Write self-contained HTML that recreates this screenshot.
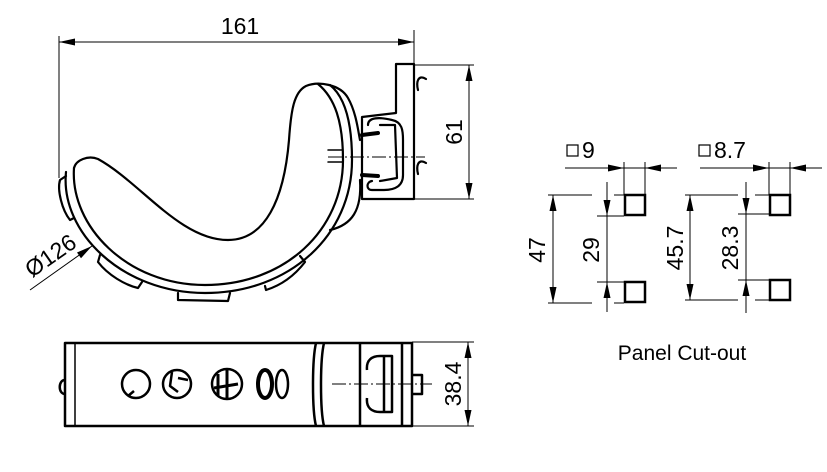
<!DOCTYPE html>
<html><head><meta charset="utf-8"><style>
html,body{margin:0;padding:0;background:#fff;}
svg{display:block}
text{font-family:"Liberation Sans",sans-serif;fill:#000}
</style></head><body>
<svg width="827" height="472" viewBox="0 0 827 472" xmlns="http://www.w3.org/2000/svg">
<g stroke="#000" fill="none" stroke-width="1">
<line x1="59" y1="36" x2="59" y2="178"/>
<line x1="414" y1="30" x2="414" y2="65"/>
<line x1="59" y1="42" x2="414" y2="42"/>
<line x1="414" y1="65" x2="474" y2="65"/>
<line x1="414" y1="199" x2="474" y2="199"/>
<line x1="469" y1="65" x2="469" y2="199"/>
<line x1="328" y1="157" x2="425" y2="157" stroke-dasharray="14,3,2,3"/>
<line x1="30" y1="290" x2="92" y2="246"/>
<line x1="332" y1="384" x2="432" y2="384" stroke-dasharray="14,3,2,3"/>
<line x1="412" y1="342" x2="474" y2="342"/>
<line x1="412" y1="426" x2="474" y2="426"/>
<line x1="468" y1="342" x2="468" y2="426"/>
<!-- cut-out dims -->
<line x1="565" y1="168" x2="677" y2="168"/>
<line x1="624" y1="162" x2="624" y2="195"/>
<line x1="645" y1="162" x2="645" y2="195"/>
<line x1="548" y1="195" x2="592" y2="195"/>
<line x1="548" y1="303" x2="592" y2="303"/>
<line x1="614" y1="195" x2="624" y2="195"/>
<line x1="614" y1="303" x2="624" y2="303"/>
<line x1="553" y1="195" x2="553" y2="303"/>
<line x1="597" y1="216" x2="624" y2="216"/>
<line x1="597" y1="282" x2="624" y2="282"/>
<line x1="607" y1="182" x2="607" y2="312"/>
<line x1="700" y1="168" x2="822" y2="168"/>
<line x1="769" y1="162" x2="769" y2="195"/>
<line x1="790" y1="162" x2="790" y2="195"/>
<line x1="685" y1="195" x2="738" y2="195"/>
<line x1="685" y1="300" x2="738" y2="300"/>
<line x1="755" y1="195" x2="769" y2="195"/>
<line x1="755" y1="300" x2="769" y2="300"/>
<line x1="690" y1="195" x2="690" y2="300"/>
<line x1="738" y1="214" x2="769" y2="214"/>
<line x1="738" y1="280" x2="769" y2="280"/>
<line x1="746" y1="182" x2="746" y2="313"/>
</g>
<g fill="#000" stroke="none">
<polygon points="59,42 75,38.5 75,45.5"/>
<polygon points="414,42 398,38.5 398,45.5"/>
<polygon points="469,65 465.5,81 472.5,81"/>
<polygon points="469,199 465.5,183 472.5,183"/>
<polygon points="92,246 81,258.2 77,252.5"/>
<polygon points="468,342 464.5,358 471.5,358"/>
<polygon points="468,426 464.5,410 471.5,410"/>
<polygon points="624,168 608,164.5 608,171.5"/>
<polygon points="645,168 661,164.5 661,171.5"/>
<polygon points="553,195 549.5,211 556.5,211"/>
<polygon points="553,303 549.5,287 556.5,287"/>
<polygon points="607,216 603.5,200 610.5,200"/>
<polygon points="607,282 603.5,298 610.5,298"/>
<polygon points="769,168 753,164.5 753,171.5"/>
<polygon points="790,168 806,164.5 806,171.5"/>
<polygon points="690,195 686.5,211 693.5,211"/>
<polygon points="690,300 686.5,284 693.5,284"/>
<polygon points="746,214 742.5,198 749.5,198"/>
<polygon points="746,280 742.5,296 749.5,296"/>
</g>
<g stroke="#000" fill="none" stroke-width="2.2" stroke-linejoin="round" stroke-linecap="round">
<path d="M396,64 L414,64 L414,199 L362,199 L362,117 L396,113 Z"/>
<path d="M426,79 C418,74 416,82 418,90"/>
<path d="M426,163 C418,158 416,166 418,174"/>
<path d="M368,125 C368,117 380,117 392,120 C402,122 403,130 403,140 L403,175 C403,186 395,190 384,190 L372,190 C366,190 366,182 372,181"/>
<path d="M380,125 L395,125 L397,178 L380,181"/>
<path d="M362,135 L378,133 M362,175 L378,176" stroke-width="4"/>
<path d="M66,172 C60,232 122,293 205,293 C290,293 352,235 352,160 C352,122 345,97 330,85"/>
<path d="M74,168 C70,226 127,285 205,285 C285,285 343,230 343,160 C343,122 335,98 318,84"/>
<path d="M74,168 C76,160 88,155 98,159 C140,182 180,240 228,240 C265,240 284,200 289,140 C291,110 294,92 306,86 C318,81 340,84 348,98 C356,112 358,130 360,140"/>
<path d="M360,180 C362,210 352,225 330,230"/>
<path d="M66,176 L60,180 C57,190 62,210 70,220 L74,218"/>
<path d="M100,255 L98,262 C108,275 125,285 138,288 L142,282"/>
<path d="M178,293 L178,300 L228,301 L230,293"/>
<path d="M265,286 L266,290 C282,285 295,275 305,262 L300,256"/>
<line x1="328" y1="150" x2="342" y2="150" stroke-width="1.5"/>
<line x1="328" y1="162" x2="342" y2="162" stroke-width="1.5"/>
</g>
<text x="240" y="34" font-size="23" text-anchor="middle">161</text>
<text transform="translate(462,132) rotate(-90)" font-size="23" text-anchor="middle">61</text>
<text transform="translate(55,262) rotate(-35)" font-size="23" text-anchor="middle">Ø126</text>
<g stroke="#000" fill="none" stroke-width="2.5" stroke-linejoin="round">
<rect x="65" y="343" width="347" height="83"/>
<line x1="75" y1="343" x2="75" y2="426" stroke-width="1.5"/>
<path d="M316,343 C312,360 312,410 316,426 M324,343 C320,360 320,410 324,426"/>
<line x1="360" y1="343" x2="360" y2="426"/>
<line x1="402" y1="343" x2="402" y2="426"/>
<path d="M367,370 C366,360 372,356 380,356 L392,356 L392,412 L380,412 C372,412 366,408 367,398"/>
<path d="M384,357 L384,411"/>
<path d="M412,375 L422,375 L422,394 L412,394"/>
<path d="M65,380 C58,380 58,394 65,394"/>
<circle cx="136" cy="384" r="14"/>
<path d="M128,396 L134,391"/>
<circle cx="177" cy="384" r="14"/>
<path d="M172,372 L170,386 L178,392 M178,378 L188,380"/>
<circle cx="227" cy="384" r="15"/>
<path d="M218,374 L218,396 M227,370 L227,398 M214,388 L238,384" stroke-width="3"/>
<ellipse cx="265" cy="384" rx="7" ry="14" stroke-width="4"/>
<ellipse cx="282" cy="384" rx="6" ry="14"/>
</g>
<text transform="translate(461,384) rotate(-90)" font-size="23" text-anchor="middle">38.4</text>
<text x="682" y="360" font-size="21" text-anchor="middle">Panel Cut-out</text>
<g stroke="#000" fill="none" stroke-width="2.5">
<rect x="625" y="195" width="20" height="20"/>
<rect x="625" y="282" width="20" height="20"/>
<rect x="770" y="195" width="20" height="20"/>
<rect x="770" y="280" width="20" height="20"/>
</g>
<rect x="567" y="145" width="11" height="11" fill="none" stroke="#000" stroke-width="1.2"/>
<text x="582" y="158" font-size="23">9</text>
<rect x="699" y="145" width="11" height="11" fill="none" stroke="#000" stroke-width="1.2"/>
<text x="714" y="158" font-size="23">8.7</text>
<text transform="translate(545,250) rotate(-90)" font-size="23" text-anchor="middle">47</text>
<text transform="translate(599,250) rotate(-90)" font-size="23" text-anchor="middle">29</text>
<text transform="translate(683,248) rotate(-90)" font-size="23" text-anchor="middle">45.7</text>
<text transform="translate(738,248) rotate(-90)" font-size="23" text-anchor="middle">28.3</text>
</svg>
</body></html>
